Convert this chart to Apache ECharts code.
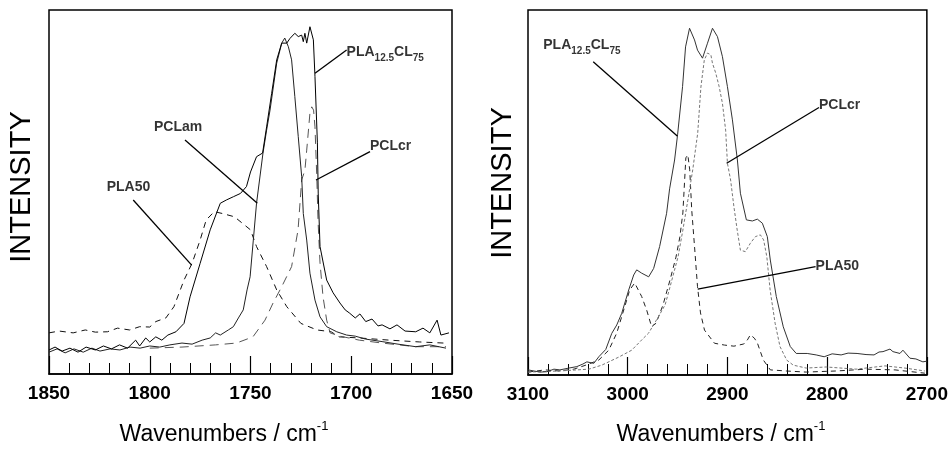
<!DOCTYPE html>
<html lang="en">
<head>
    <meta charset="UTF-8">
    <title>Raman spectra - C=O and C-H regions</title>
    <script src="https://cdn.jsdelivr.net/npm/echarts@6.0.0/dist/echarts.min.js"></script>
    <style>
        body { margin: 0; background: #fff; }
        #main { width: 951px; height: 452px; }
    </style>
</head>
<body>
    <div id="main"></div>

    <script type="text/javascript">
        // ---- left panel: carbonyl region (wavenumber, intensity 0-100) ----
        var leftBlend = [[1850,6.6],[1847,7.4],[1843.5,6.3],[1839.6,7.1],[1835.6,6.0],[1831.6,7.4],[1827,6.6],[1823,7.7],[1819,6.9],[1815,8.0],[1811,7.1],[1807,9.3],[1805,7.7],[1802,9.9],[1800,8.8],[1797,10.2],[1794,9.3],[1791,10.7],[1787,11.6],[1783,13.9],[1780,21.2],[1775,30.4],[1770,39.6],[1765,46.9],[1762,47.8],[1758.5,48.7],[1755,49.6],[1752,51.5],[1750,55.5],[1747,59.7],[1744,60.7],[1742,67.9],[1739.5,77.1],[1737,86.3],[1734.5,90.9],[1732,90.9],[1730.4,92.2],[1728,93.6],[1726.3,92.7],[1724.6,93.1],[1723.8,91.3],[1723,93.6],[1722.1,90.9],[1720.5,95.4],[1719.6,95.9],[1718.8,91.8],[1718,81.7],[1716.8,63.5],[1716.4,49.7],[1715.5,35.0],[1712.2,25.8],[1709,22.3],[1705.6,19.5],[1703,17.6],[1701,16.8],[1698,15.4],[1695.7,16.5],[1692.8,14.4],[1689.7,15.1],[1686.7,13.2],[1684.7,13.5],[1680.8,12.4],[1677.3,13.5],[1673.3,11.8],[1668,11.6],[1664.4,12.6],[1661,11.3],[1657.4,14.8],[1655.5,10.7],[1651.5,11.3]];
        var leftPCLam = [[1850,6.0],[1846,6.9],[1842,5.8],[1837.6,6.9],[1833,6.0],[1828.7,7.1],[1824.7,6.3],[1819.7,6.9],[1814.8,6.6],[1809.8,7.4],[1804.8,7.1],[1800,7.7],[1795,7.4],[1790,8.0],[1784,8.5],[1779,8.2],[1774,9.3],[1770,9.9],[1767.3,11.3],[1765,10.7],[1761,12.1],[1758.5,13.0],[1756,15.4],[1753.6,17.6],[1751.7,23.1],[1750.2,26.7],[1748.6,36.8],[1747,46.9],[1746.3,47.3],[1743.8,60.7],[1742,67.0],[1740.3,72.5],[1737,85.4],[1734.5,90.9],[1733,92.3],[1731.2,89.9],[1729.6,86.3],[1728,76.2],[1726.3,65.2],[1724.6,54.2],[1723.8,44.1],[1722.1,36.8],[1720.5,27.7],[1718,20.3],[1715.5,15.7],[1712.2,13.0],[1707.2,11.6],[1702.3,10.7],[1698,10.4],[1693,9.6],[1684.7,8.9],[1676.8,8.2],[1668,7.5],[1661,8.0],[1653,7.1]];
        var leftPCLcr = [[1800,7.1],[1784,7.4],[1767.3,8.0],[1757,8.5],[1748.8,10.2],[1742.8,14.8],[1738.8,19.5],[1734.5,24.0],[1729.6,29.5],[1726.4,39.6],[1724.6,53.3],[1723,56.0],[1722.1,61.5],[1720.5,71.7],[1719.6,73.4],[1718.7,72.5],[1718,67.9],[1717.1,54.2],[1716.5,42.3],[1715.5,30.5],[1714,21.2],[1712.2,14.8],[1710.5,11.3],[1705.6,10.4],[1696,9.3],[1684.7,8.5],[1668,7.5],[1653,7.5]];
        var leftPLA50 = [[1850,11.3],[1845,11.8],[1838,11.3],[1832,12.1],[1827,11.5],[1821,11.6],[1816,12.6],[1810,12.1],[1805,13.0],[1800,12.9],[1797,14.4],[1792,15.4],[1788,18.5],[1783,25.8],[1779,30.4],[1775,36.8],[1772,42.3],[1768,44.6],[1764,44.1],[1758,43.2],[1754,41.4],[1750,39.6],[1747,35.0],[1742,29.5],[1737,23.1],[1732,18.5],[1725,13.9],[1717,12.1],[1710,11.6],[1706,10.2],[1696,9.9],[1681,9.3],[1666,8.8],[1654,8.5]];

        // ---- right panel: C-H stretching region ----
        var rightBlend = [[3100,1.4],[3088,0.8],[3081,0.9],[3074,1.6],[3068,1.4],[3059,1.9],[3051,2.3],[3045,3.0],[3041,3.6],[3034,3.2],[3029,5.0],[3022,7.0],[3016,11.4],[3011,13.7],[3006,16.9],[2999,23.3],[2994,27.4],[2991,28.8],[2986,27.9],[2979,26.9],[2974,29.2],[2968,35.2],[2961,44.3],[2958,51.0],[2953,58.9],[2950,65.8],[2945,79.0],[2942,89.9],[2938,95.0],[2933,91.8],[2930,89.0],[2925,86.8],[2920,90.9],[2915,95.0],[2910,92.7],[2905,87.2],[2900,79.0],[2895,69.9],[2890,58.9],[2887,49.8],[2881,42.5],[2875,42.2],[2870,42.7],[2865,41.6],[2860,37.9],[2857,31.5],[2851,21.5],[2844,13.2],[2837,7.8],[2831,5.9],[2820,5.9],[2811,5.5],[2803,5.0],[2795,5.8],[2786,5.5],[2779,6.0],[2770,5.9],[2761,5.6],[2753,5.5],[2748,6.3],[2744,6.4],[2737,7.1],[2734,6.4],[2727,5.9],[2724,6.8],[2717,4.6],[2711,4.4],[2704,3.6],[2700,3.8]];
        var rightPCLcr = [[3100,0.8],[3069,1.1],[3039,1.6],[3026,2.7],[3009,4.9],[2996,6.8],[2986,9.6],[2979,11.5],[2970,15.6],[2962.5,19.2],[2957.6,24.1],[2949.6,32.3],[2944.7,39.7],[2939.7,47.9],[2934.8,56.2],[2929.8,66.3],[2926.6,78.9],[2923.2,86.3],[2920,88.2],[2916.6,87.7],[2915,85.4],[2911.7,82.7],[2908.3,79.0],[2905,74.4],[2901.8,67.1],[2900,58.0],[2896.8,53.4],[2893.5,46.1],[2890.2,39.7],[2887,34.2],[2882,33.8],[2877,36.1],[2872,37.9],[2867,38.4],[2863.7,37.0],[2860.5,32.4],[2857.2,23.3],[2852.2,14.2],[2847.3,7.8],[2840.6,4.1],[2834,2.7],[2821,1.9],[2801,2.2],[2771,1.6],[2742,2.5],[2722,1.9],[2702,1.1]];
        var rightPLA50 = [[3100,0.8],[3083,1.4],[3069,1.1],[3054,1.6],[3042,2.7],[3029,4.1],[3019,6.8],[3011,11.5],[3004,17.8],[2998,23.3],[2993,25.2],[2986,21.5],[2981,17.8],[2976,13.2],[2971.5,14.2],[2964.6,19.2],[2957.6,26.0],[2951.6,32.3],[2947.7,37.8],[2944.7,44.4],[2941.7,59.5],[2939.7,60.3],[2937.8,56.2],[2935.8,45.2],[2933,35.2],[2930,24.2],[2927,17.0],[2923,12.3],[2913,8.7],[2903,8.2],[2893.5,7.9],[2883.6,8.5],[2880,9.6],[2877,11.0],[2873,10.1],[2870,8.8],[2864,4.1],[2857,1.4],[2841,1.1],[2821,0.8],[2791,1.1],[2761,1.6],[2732,1.4],[2702,0.5]];

        // ---- callouts: label anchor, leader line start and end (data units) ----
        var leftNotes = [
            { label: '{b|PLA}{s|12.5}{b|CL}{s|75}', at: [1702.3, 88.5], from: [1702.3, 89.0], to: [1718, 82.6] },
            { label: '{b|PCLcr}', at: [1690.7, 62.7], from: [1690.7, 61.1], to: [1717.5, 53.3] },
            { label: '{b|PCLam}', at: [1797.9, 67.9], from: [1782.5, 64.3], to: [1746.6, 46.9] },
            { label: '{b|PLA50}', at: [1821.4, 51.2], from: [1808.2, 47.8], to: [1779.2, 29.9] }
        ];
        var rightNotes = [
            { label: '{b|PLA}{s|12.5}{b|CL}{s|75}', at: [3084.7, 90.4], from: [3034.6, 85.8], to: [2950.3, 65.5] },
            { label: '{b|PCLcr}', at: [2808.2, 74.0], from: [2808.2, 73.3], to: [2900.8, 58.0] },
            { label: '{b|PLA50}', at: [2811.6, 29.9], from: [2811.6, 29.7], to: [2929.8, 23.5] }
        ];

        var FONT = '"Liberation Sans", Arial, sans-serif';
        var chart = echarts.init(document.getElementById('main'));

        function xAxisFor(idx, min, max, interval) {
            return {
                type: 'value', gridIndex: idx, min: min, max: max, interval: interval, inverse: true,
                splitLine: { show: false },
                axisLine: { lineStyle: { color: '#000', width: 1.5 } },
                axisTick: { inside: true, length: 18, lineStyle: { color: '#000', width: 1.2 } },
                minorTick: { show: true, splitNumber: 5, length: 11, lineStyle: { color: '#000', width: 1 } },
                axisLabel: { color: '#000', fontSize: 19, fontWeight: 'bold', fontFamily: FONT, margin: 10,
                    showMinLabel: true, showMaxLabel: true,
                    formatter: function (v) { return String(v); } }
            };
        }

        function spectrum(name, idx, data, color, type) {
            return {
                name: name, type: 'line', xAxisIndex: idx, yAxisIndex: idx, data: data,
                symbol: 'none', silent: true,
                lineStyle: { color: color, width: 1, type: type }
            };
        }

        var richStyles = {
            b: { fontSize: 14, fontWeight: 'bold', fontFamily: FONT, color: '#000', lineHeight: 22 },
            s: { fontSize: 10, fontWeight: 'bold', fontFamily: FONT, color: '#000', verticalAlign: 'bottom' }
        };

        function callouts(idx, notes) {
            return {
                type: 'scatter', xAxisIndex: idx, yAxisIndex: idx, symbolSize: 0, silent: true,
                data: notes.map(function (n) { return { value: n.at, label: { formatter: n.label } }; }),
                label: { show: true, position: 'right', distance: 0, color: '#000', rich: richStyles },
                markLine: {
                    symbol: 'none', silent: true, label: { show: false },
                    lineStyle: { color: '#000', width: 1.3, type: 'solid' },
                    data: notes.map(function (n) { return [{ coord: n.from }, { coord: n.to }]; })
                }
            };
        }

        var titleRich = {
            m: { fontSize: 23, fontFamily: FONT, color: '#000', lineHeight: 30 },
            u: { fontSize: 13, fontFamily: FONT, color: '#000', verticalAlign: 'top' }
        };

        var option = {
            animation: false,
            backgroundColor: '#fff',
            grid: [
                { left: 49, top: 10, width: 403, height: 364, show: true, borderColor: '#000', borderWidth: 1.5 },
                { left: 528, top: 10, width: 404, height: 365, show: true, borderColor: '#000', borderWidth: 1.5 }
            ],
            xAxis: [xAxisFor(0, 1650, 1850, 50), xAxisFor(1, 2700, 3100, 100)],
            yAxis: [
                { type: 'value', gridIndex: 0, min: 0, max: 100, show: false },
                { type: 'value', gridIndex: 1, min: 0, max: 100, show: false }
            ],
            graphic: [
                { type: 'text', x: 22, y: 187, rotation: Math.PI / 2,
                  style: { text: 'INTENSITY', fontSize: 29, fontFamily: FONT, fill: '#000', align: 'center', verticalAlign: 'middle' } },
                { type: 'text', x: 503, y: 183, rotation: Math.PI / 2,
                  style: { text: 'INTENSITY', fontSize: 29, fontFamily: FONT, fill: '#000', align: 'center', verticalAlign: 'middle' } },
                { type: 'text', x: 224, y: 435,
                  style: { text: '{m|Wavenumbers / cm}{u|-1}', rich: titleRich, align: 'center', verticalAlign: 'middle' } },
                { type: 'text', x: 721, y: 435,
                  style: { text: '{m|Wavenumbers / cm}{u|-1}', rich: titleRich, align: 'center', verticalAlign: 'middle' } }
            ],
            series: [
                spectrum('PLA50', 0, leftPLA50, '#111', [6, 5]),
                spectrum('PCLcr', 0, leftPCLcr, '#555', [9, 6]),
                spectrum('PCLam', 0, leftPCLam, '#222', 'solid'),
                spectrum('PLA12.5CL75', 0, leftBlend, '#000', 'solid'),
                callouts(0, leftNotes),
                spectrum('PLA50', 1, rightPLA50, '#222', [5, 4]),
                spectrum('PCLcr', 1, rightPCLcr, '#777', [3, 2]),
                spectrum('PLA12.5CL75', 1, rightBlend, '#333', 'solid'),
                callouts(1, rightNotes)
            ]
        };

        chart.setOption(option);
    </script>
</body>
</html>
